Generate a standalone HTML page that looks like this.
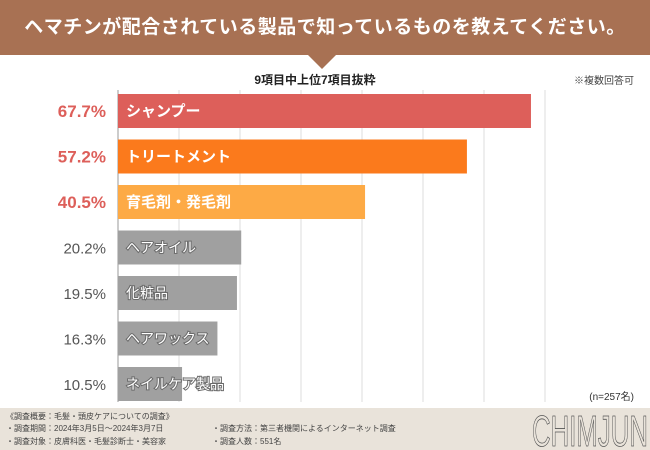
<!DOCTYPE html>
<html><head><meta charset="utf-8"><style>
body{margin:0;width:650px;height:450px;overflow:hidden;background:#fff;font-family:"Liberation Sans","Noto Sans CJK JP",sans-serif;position:relative}
.hdr{position:absolute;left:0;top:0;width:650px;height:55px;background:#a87153;color:#fff;font-size:19px;font-weight:bold;text-align:center;line-height:55px;letter-spacing:0.5px}
.tri{position:absolute;left:308px;top:55px;width:0;height:0;border-left:14px solid transparent;border-right:14px solid transparent;border-top:14px solid #a87153}
.ftr{position:absolute;left:0;top:408px;width:650px;height:42px;background:#e9e3da;font-size:8px;color:#444}
.ftr div{position:absolute;white-space:nowrap}
</style></head><body>
<div class="hdr">ヘマチンが配合されている製品で知っているものを教えてください。</div>
<div class="tri"></div>
<svg id="c" width="650" height="408" style="position:absolute;left:0;top:0">
<text x="315" y="84" font-size="12" font-weight="bold" text-anchor="middle" fill="#222">9項目中上位7項目抜粋</text>
<text x="634" y="84" font-size="10" text-anchor="end" fill="#444">※複数回答可</text>
<text x="634" y="400" font-size="10" text-anchor="end" fill="#333">(n=257名)</text>
</svg>
<div class="ftr">
<div style="left:6px;top:3px">《調査概要：毛髪・頭皮ケアについての調査》</div>
<div style="left:6px;top:15px">・調査期間：2024年3月5日〜2024年3月7日</div>
<div style="left:6px;top:28px">・調査対象：皮膚科医・毛髪診断士・美容家</div>
<div style="left:212px;top:15px">・調査方法：第三者機関によるインターネット調査</div>
<div style="left:212px;top:28px">・調査人数：551名</div>
<svg style="position:absolute;left:530px;top:0" width="120" height="42"><text x="2" y="38" font-size="44" textLength="116" lengthAdjust="spacingAndGlyphs" fill="none" stroke="#555" stroke-width="0.8" font-family="Liberation Sans Narrow, Liberation Sans, sans-serif">CHIMJUN</text></svg>
</div>
<script>
const categories=["シャンプー","トリートメント","育毛剤・発毛剤","ヘアオイル","化粧品","ヘアワックス","ネイルケア製品"];
const values=[67.7,57.2,40.5,20.2,19.5,16.3,10.5];
const labels=["67.7%","57.2%","40.5%","20.2%","19.5%","16.3%","10.5%"];
const barColors=["#dd5f5a","#fb7a1c","#fdaa45","#a0a0a0","#a0a0a0","#a0a0a0","#a0a0a0"];
const gridTicks=[0,10,20,30,40,50,60,70];
const svg=document.getElementById('c');const NS="http://www.w3.org/2000/svg";
const x=v=>118+v*6.1;const yc=i=>111+i*45.5;
function mk(t,a){const e=document.createElementNS(NS,t);for(const k in a)e.setAttribute(k,a[k]);svg.appendChild(e);return e;}
gridTicks.forEach(t=>{const l=mk('line',{x1:x(t),x2:x(t),y1:90,y2:402,stroke:t===0?'#999':'#ddd','stroke-width':1});

});
categories.forEach((c,i)=>{
const top=i<3;
const r=mk('rect',{x:x(0),y:yc(i)-17,width:x(values[i])-x(0),height:34,fill:barColors[i]});


const t=mk('text',{x:126,y:yc(i)+5,'font-size':top?15:14,fill:'#fff','font-weight':top?'bold':'normal',stroke:top?'none':'#6a6a6a','stroke-width':top?0:2,'paint-order':'stroke'});t.textContent=c;


const v=mk('text',{x:106,y:yc(i)+6,'font-size':top?17:15,'text-anchor':'end',fill:top?'#dd5f5a':'#555','font-weight':top?'bold':'normal'});v.textContent=labels[i];


});
</script>
</body></html>
